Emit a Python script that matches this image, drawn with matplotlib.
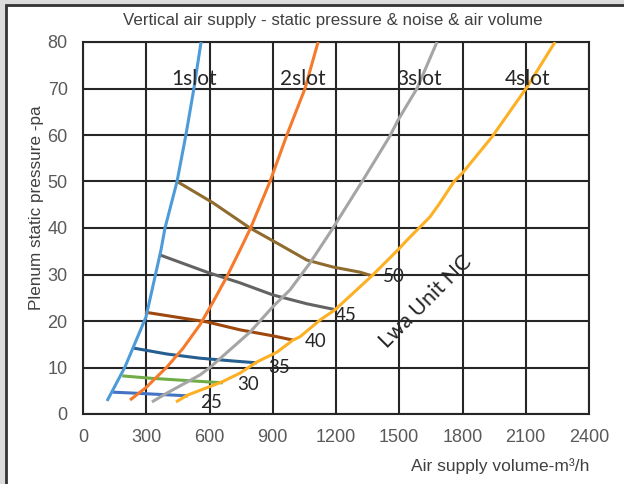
import matplotlib
matplotlib.use("Agg")
import matplotlib.pyplot as plt
from matplotlib.patches import Rectangle

# slot characteristic curves: air volume (m3/h) vs plenum static pressure (pa)
slot1_q = [114, 199, 299, 370, 389, 446, 488, 526, 560]
slot1_p = [2.8, 10.1, 20.9, 35.3, 40, 50, 60, 70, 80]

slot2_q = [223, 299, 398, 474, 555, 617, 683, 745, 795, 887, 967, 1053, 1115]
slot2_p = [3.0, 5.7, 10.1, 14.1, 19.2, 24.1, 29.6, 35.3, 40, 50, 60, 70, 80]

slot3_q = [327, 398, 555, 602, 712, 792, 901, 982, 1077, 1180, 1328, 1456, 1494, 1584, 1679]
slot3_p = [2.6, 4.5, 8.4, 10, 14.4, 17.6, 23.1, 26.7, 32.5, 39.6, 50.3, 59.8, 63.2, 70, 80]

slot4_q = [441, 498, 659, 745, 825, 920, 996, 1029, 1124, 1195, 1370, 1494, 1537,
           1646, 1693, 1760, 1803, 1940, 2106, 2239]
slot4_p = [2.6, 4.1, 6.9, 8.8, 11.2, 13.3, 15.9, 16.6, 20.2, 22.4, 29.7, 35.3, 37.4,
           42.4, 45.4, 50, 52, 59.6, 70.3, 80]

slot_names = ["1slot", "2slot", "3slot", "4slot"]
slot_label_x = [526, 1043, 1594, 2110]

# NC noise lines
nc25_q = [140, 237, 498]
nc25_p = [4.7, 4.5, 3.9]
nc30_q = [186, 318, 664]
nc30_p = [8.2, 7.7, 6.7]
nc35_q = [237, 398, 555, 712, 825]
nc35_p = [14.2, 12.9, 12.0, 11.4, 11.0]
nc40_q = [294, 588, 745, 901, 996]
nc40_p = [21.9, 19.8, 18.1, 16.8, 15.9]
nc45_q = [365, 588, 745, 901, 1062, 1190]
nc45_p = [34.2, 30.5, 28.2, 25.6, 23.7, 22.5]
nc50_q = [446, 617, 792, 934, 1062, 1186, 1314, 1371]
nc50_p = [50, 45.4, 40, 36.4, 33.1, 31.6, 30.5, 29.7]

nc_names = ["25", "30", "35", "40", "45", "50"]
# label offset from the end of each NC line, in pixels
nc_label_offset = [(12, -7), (14, -2), (11, -5), (12, -1), (1, -6), (11, -1)]

slot_colors = ["#4E9BD9", "#F57A2C", "#A5A5A5", "#FDB024"]
nc_colors = ["#4472C4", "#70AD47", "#255E91", "#9E480E", "#636363", "#8F6B2E"]

fig = plt.figure(figsize=(6.24, 4.84), dpi=100)
fig.patch.set_facecolor("#DCDCDC")
# white sheet with a dark edge on the top and left sides
fig.patches.append(Rectangle((6 / 624, -0.1), 1.2, 1.1 - 5 / 484,
                             transform=fig.transFigure, facecolor="white",
                             edgecolor="#333333", lw=2, zorder=-10))

ax = fig.add_axes([83 / 624, 1 - 414 / 484, 506 / 624, 372 / 484])
ax.set_facecolor("white")

nc_q = [nc25_q, nc30_q, nc35_q, nc40_q, nc45_q, nc50_q]
nc_p = [nc25_p, nc30_p, nc35_p, nc40_p, nc45_p, nc50_p]
for q, p, c in zip(nc_q, nc_p, nc_colors):
    ax.plot(q, p, color=c, lw=2.2, solid_capstyle="butt", zorder=3)

slot_q = [slot1_q, slot2_q, slot3_q, slot4_q]
slot_p = [slot1_p, slot2_p, slot3_p, slot4_p]
for q, p, c in zip(slot_q, slot_p, slot_colors):
    ax.plot(q, p, color=c, lw=2.2, solid_capstyle="butt", zorder=4)

lbl_font = dict(family="Lato", color="#262626")
for name, x in zip(slot_names, slot_label_x):
    ax.text(x, 72, name, ha="center", va="center", fontsize=15, zorder=5, **lbl_font)

# NC labels sit just right of where each noise line meets the 4slot curve
for name, q, p, off in zip(nc_names, nc_q, nc_p, nc_label_offset):
    ax.annotate(name, (q[-1], p[-1]), xytext=off, textcoords="offset pixels",
                ha="left", va="center", fontsize=13.5, zorder=5, **lbl_font)

ax.text(1627, 24.1, "Lwa Unit NC", rotation=45, ha="center", va="center",
        fontsize=15.5, rotation_mode="anchor", zorder=5, **lbl_font)

ax.set_xlim(0, 2400)
ax.set_ylim(0, 80)
ax.set_xticks(range(0, 2401, 300))
ax.set_yticks(range(0, 81, 10))
ax.grid(True, color="#262626", lw=1.5)
ax.set_axisbelow(True)
for s in ax.spines.values():
    s.set_color("#262626")
    s.set_linewidth(1.5)
ax.tick_params(length=0, labelsize=13, labelcolor="#595959", pad=11)
for t in ax.get_xticklabels() + ax.get_yticklabels():
    t.set_family("Liberation Sans")

fig.text(333 / 624, 1 - 20 / 484, "Vertical air supply - static pressure & noise & air volume",
         ha="center", va="center", fontsize=12.2, color="#404040", family="Liberation Sans")
fig.text(37 / 624, 1 - 208 / 484, "Plenum static pressure -pa", rotation=90,
         ha="center", va="center", fontsize=12.3, color="#404040", family="Liberation Sans")
fig.text(589 / 624, 1 - 466 / 484, "Air supply volume-m³/h", ha="right", va="center",
         fontsize=12.5, color="#404040", family="Liberation Sans")

fig.savefig("out.png", dpi=100, facecolor=fig.get_facecolor())
